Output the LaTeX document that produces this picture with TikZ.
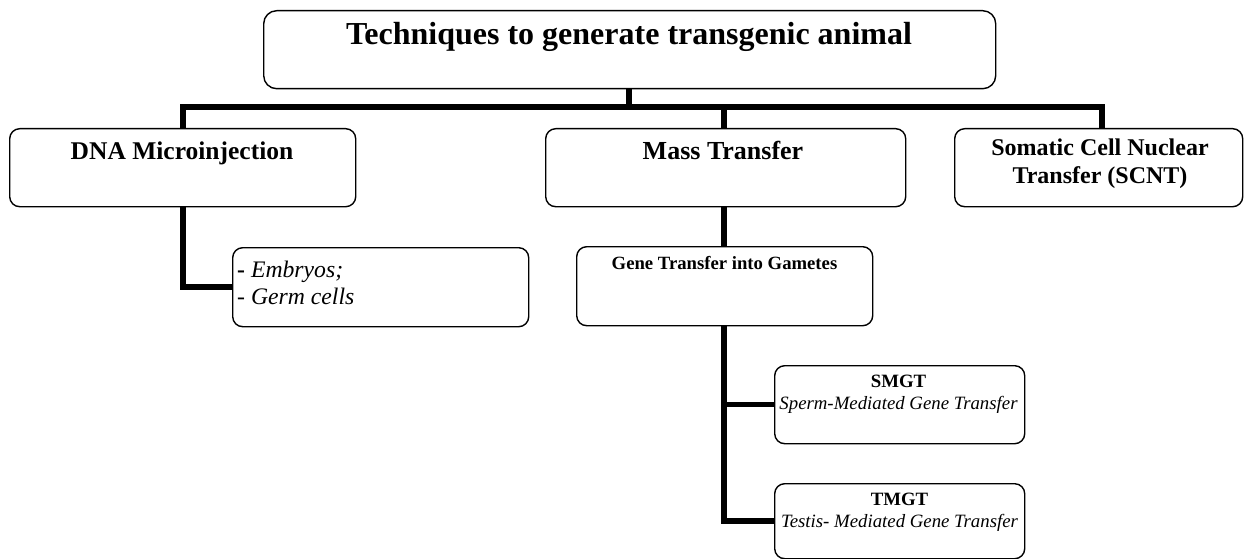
\documentclass[tikz,border=0pt]{standalone}
\usepackage{fontspec}
\setmainfont{Liberation Serif}
\begin{document}
\begin{tikzpicture}[x=1pt,y=-1pt,
  box/.style={draw, line width=1.4pt, rounded corners=10pt, inner sep=0pt, anchor=north west},
  conn/.style={line width=5.5pt, line join=miter},
  txt/.style={inner sep=0pt, anchor=base}]
\useasboundingbox (0,0) rectangle (1244,559);
% boxes
\node[box, rounded corners=13pt, minimum width=732pt, minimum height=78pt] (top) at (263,10) {};
\node[box, minimum width=346pt, minimum height=78pt] (dna) at (9,128) {};
\node[box, minimum width=360pt, minimum height=78pt] (mass) at (545,128) {};
\node[box, minimum width=288pt, minimum height=78pt] (scnt) at (954,128) {};
\node[box, minimum width=296pt, minimum height=79pt] (emb) at (232,247) {};
\node[box, minimum width=296pt, minimum height=79pt] (gene) at (576,246) {};
\node[box, minimum width=250pt, minimum height=78pt] (smgt) at (774,365) {};
\node[box, minimum width=250pt, minimum height=75pt] (tmgt) at (774,483) {};
% texts
\node[txt, font=\bfseries\fontsize{32}{36}\selectfont] (ttop) at (629,45) {Techniques to generate transgenic animal};
\node[txt, font=\bfseries\fontsize{25.5}{28}\selectfont] (tdna) at (182,159) {DNA Microinjection};
\node[txt, font=\bfseries\fontsize{26}{28}\selectfont] (tmass) at (723,159) {Mass Transfer};
\node[txt, font=\bfseries\fontsize{24}{28}\selectfont] (tscnt1) at (1100,155) {Somatic Cell Nuclear};
\node[txt, font=\bfseries\fontsize{24}{28}\selectfont] (tscnt2) at (1100,183) {Transfer (SCNT)};
\node[txt, anchor=base west, font=\fontsize{23.7}{27}\selectfont] (temb1) at (237,277) {\textbf{-} \textit{Embryos;}};
\node[txt, anchor=base west, font=\fontsize{23.7}{27}\selectfont] (temb2) at (237,304) {\textit{- Germ cells}};
\node[txt, font=\bfseries\fontsize{18.7}{22}\selectfont] (tgene) at (724.5,269) {Gene Transfer into Gametes};
\node[txt, font=\bfseries\fontsize{18.8}{22}\selectfont] (tsmgt1) at (898.5,387) {SMGT};
\node[txt, font=\itshape\fontsize{18.8}{22}\selectfont] (tsmgt2) at (898.5,409) {Sperm-Mediated Gene Transfer};
\node[txt, font=\bfseries\fontsize{18.8}{22}\selectfont] (ttmgt1) at (899.5,505) {TMGT};
\node[txt, font=\itshape\fontsize{18.8}{22}\selectfont] (ttmgt2) at (899.5,527) {Testis- Mediated Gene Transfer};
% connectors
\coordinate (hc) at (629,107);
\coordinate (hL) at (183,107);
\coordinate (hM) at (724,107);
\coordinate (hR) at (1102,107);
\coordinate (dj) at (183,0);
\coordinate (gx) at (724,0);
\draw[conn] (top.south -| hc) -- (hc);
\draw[conn] (hL |- dna.north) -- (hL) -- (hR) -- (hR |- scnt.north);
\draw[conn] (hM) -- (hM |- mass.north);
\draw[conn] (dna.south -| dj) |- (emb.west);
\draw[conn] (mass.south -| gx) -- (gene.north -| gx);
\draw[conn] (gene.south -| gx) |- (tmgt.west);
\draw[conn] (gx |- smgt.west) -- (smgt.west);
\end{tikzpicture}
\end{document}
